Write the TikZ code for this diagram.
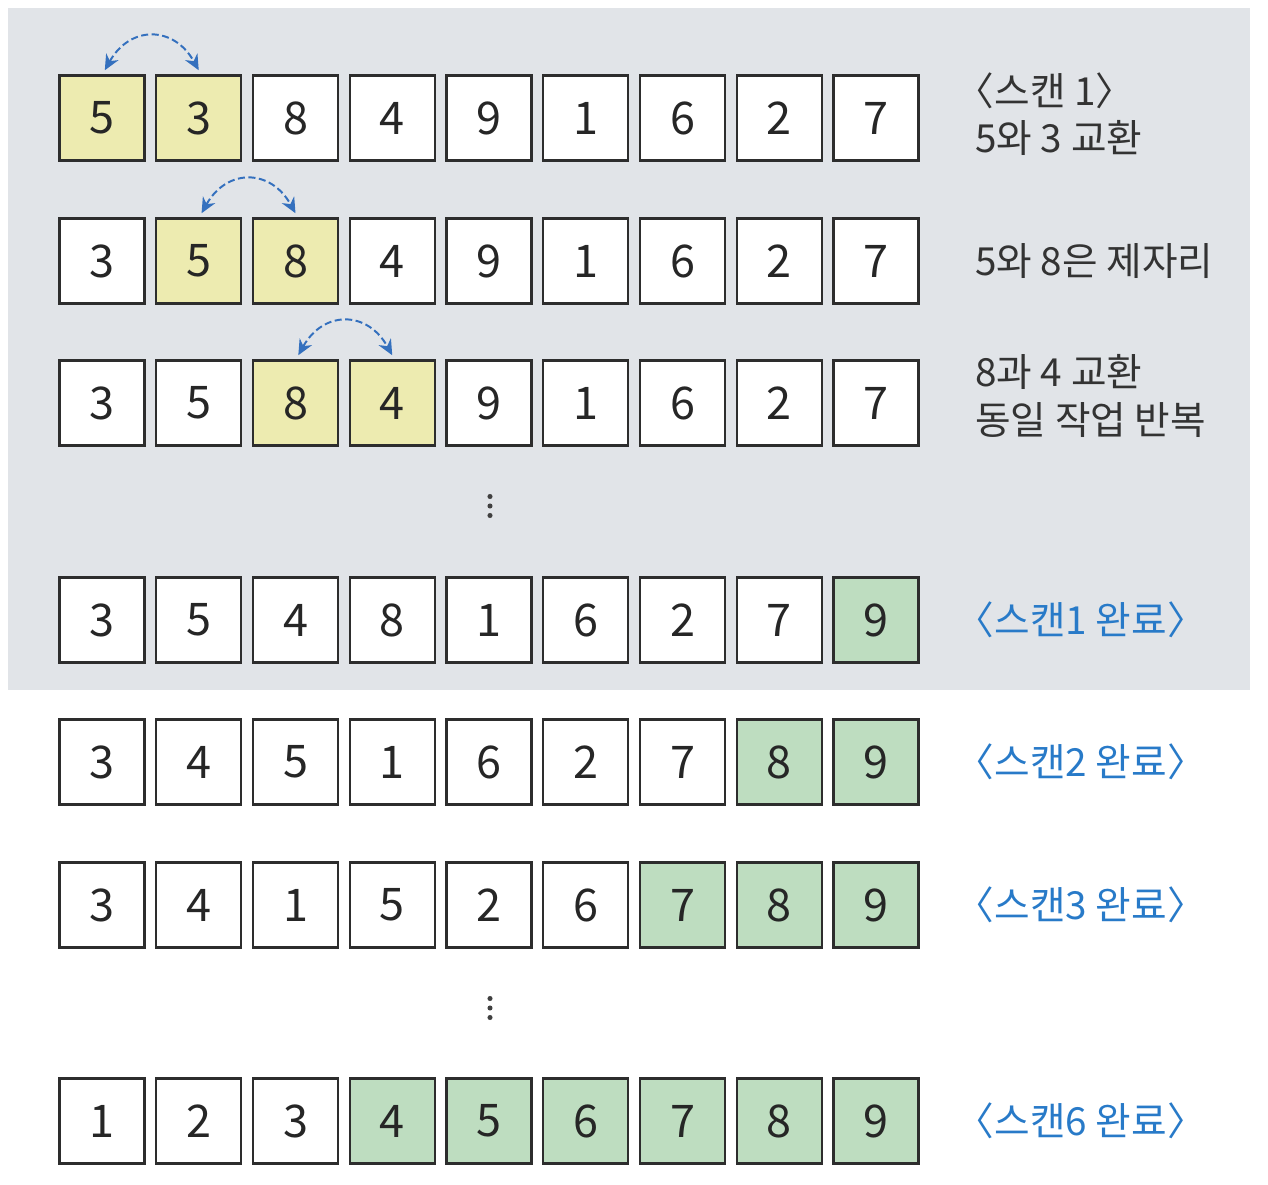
\documentclass[tikz,border=0pt]{standalone}
\usepackage{fontspec}
\setmainfont{Noto Sans CJK KR}[RawFeature=+halt]
\usetikzlibrary{arrows.meta}

\definecolor{bggray}{RGB}{225,228,232}
\definecolor{swapyel}{RGB}{237,235,176}
\definecolor{donegrn}{RGB}{190,221,192}
\definecolor{arcblue}{RGB}{52,112,190}
\definecolor{lblblue}{RGB}{40,122,200}
\definecolor{edgegray}{RGB}{45,45,45}

\begin{document}
\begin{tikzpicture}[x=0.025cm, y=-0.025cm,
  cell/.style={rectangle, draw=edgegray, line width=1.6pt, fill=white,
    minimum size=2.12cm, inner sep=0pt,
    font=\fontsize{32}{34}\selectfont, text=black!85},
  yel/.style={cell, fill=swapyel},
  grn/.style={cell, fill=donegrn},
  lbl/.style={anchor=west, align=left, inner sep=0pt,
    font=\fontsize{27.5}{33.5}\selectfont, text=black!80},
  done/.style={lbl, text=lblblue},
  swaparc/.style={{Stealth[length=11pt,width=10pt]}-{Stealth[length=11pt,width=10pt]},
    dash pattern=on 5pt off 2.5pt, draw=arcblue, line width=1.4pt}
]

\useasboundingbox (0,0) rectangle (1268,1184);
\fill[bggray] (8,8) rectangle (1250,690);

% scan 1: compare and swap
\foreach \v/\s [count=\i] in {5/yel,3/yel,8/cell,4/cell,9/cell,1/cell,6/cell,2/cell,7/cell}
  \node[\s] (a\i) at ({5.25+96.75*\i},118) {\v};
\foreach \v/\s [count=\i] in {3/cell,5/yel,8/yel,4/cell,9/cell,1/cell,6/cell,2/cell,7/cell}
  \node[\s] (b\i) at ({5.25+96.75*\i},261) {\v};
\foreach \v/\s [count=\i] in {3/cell,5/cell,8/yel,4/yel,9/cell,1/cell,6/cell,2/cell,7/cell}
  \node[\s] (c\i) at ({5.25+96.75*\i},403) {\v};

\draw[swaparc] ([xshift=2pt,yshift=3pt]a1.north) .. controls +(25,-45) and +(-25,-45) .. ([yshift=3pt]a2.north);
\draw[swaparc] ([xshift=2pt,yshift=3pt]b2.north) .. controls +(25,-45) and +(-25,-45) .. ([yshift=3pt]b3.north);
\draw[swaparc] ([xshift=2pt,yshift=3pt]c3.north) .. controls +(25,-45) and +(-25,-45) .. ([yshift=3pt]c4.north);

\node[lbl] (t1) at (975,114) {〈스캔 1〉\\5와 3 교환};
\node[lbl] (t2) at (975,261) {5와 8은 제자리};
\node[lbl] (t3) at (975,396) {8과 4 교환\\동일 작업 반복};

\foreach \d in {-9.5,0,9.5} \fill[black!75] (490,506+\d) circle (1.8pt);

% finished scans
\foreach \v/\s [count=\i] in {3/cell,5/cell,4/cell,8/cell,1/cell,6/cell,2/cell,7/cell,9/grn}
  \node[\s] (d\i) at ({5.25+96.75*\i},620) {\v};
\foreach \v/\s [count=\i] in {3/cell,4/cell,5/cell,1/cell,6/cell,2/cell,7/cell,8/grn,9/grn}
  \node[\s] (e\i) at ({5.25+96.75*\i},762) {\v};
\foreach \v/\s [count=\i] in {3/cell,4/cell,1/cell,5/cell,2/cell,6/cell,7/grn,8/grn,9/grn}
  \node[\s] (f\i) at ({5.25+96.75*\i},905) {\v};

\foreach \d in {-9.5,0,9.5} \fill[black!75] (490,1008+\d) circle (1.8pt);

\foreach \v/\s [count=\i] in {1/cell,2/cell,3/cell,4/grn,5/grn,6/grn,7/grn,8/grn,9/grn}
  \node[\s] (g\i) at ({5.25+96.75*\i},1121) {\v};

\node[done] (t4) at (975,620) {〈스캔1 완료〉};
\node[done] (t5) at (975,762) {〈스캔2 완료〉};
\node[done] (t6) at (975,905) {〈스캔3 완료〉};
\node[done] (t7) at (975,1121) {〈스캔6 완료〉};

\end{tikzpicture}
\end{document}
